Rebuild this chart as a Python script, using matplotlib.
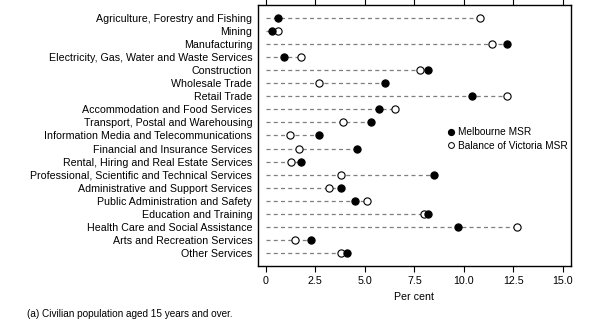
import matplotlib
matplotlib.use("Agg")
import matplotlib.pyplot as plt
from matplotlib.lines import Line2D

plt.rcParams['font.family'] = ['Liberation Sans', 'DejaVu Sans']

industries = [
    "Agriculture, Forestry and Fishing",
    "Mining",
    "Manufacturing",
    "Electricity, Gas, Water and Waste Services",
    "Construction",
    "Wholesale Trade",
    "Retail Trade",
    "Accommodation and Food Services",
    "Transport, Postal and Warehousing",
    "Information Media and Telecommunications",
    "Financial and Insurance Services",
    "Rental, Hiring and Real Estate Services",
    "Professional, Scientific and Technical Services",
    "Administrative and Support Services",
    "Public Administration and Safety",
    "Education and Training",
    "Health Care and Social Assistance",
    "Arts and Recreation Services",
    "Other Services",
]
melbourne = [0.6, 0.3, 12.2, 0.9, 8.2, 6.0, 10.4, 5.7, 5.3, 2.7, 4.6, 1.8,
             8.5, 3.8, 4.5, 8.2, 9.7, 2.3, 4.1]
balance_vic = [10.8, 0.6, 11.4, 1.8, 7.8, 2.7, 12.2, 6.5, 3.9, 1.2, 1.7, 1.3,
               3.8, 3.2, 5.1, 8.0, 12.7, 1.5, 3.8]
xticks = [0, 2.5, 5.0, 7.5, 10.0, 12.5, 15.0]
xtick_labels = ["0", "2.5", "5.0", "7.5", "10.0", "12.5", "15.0"]

fig = plt.figure(figsize=(6.08, 3.28), dpi=100)
ax = fig.add_axes([0.424, 0.189, 0.515, 0.796])

ys = list(range(len(industries)))
for y, m, b in zip(ys, melbourne, balance_vic):
    ax.plot([0, max(m, b)], [y, y], color='#7f7f7f', lw=0.9,
            dashes=(3.2, 2.6), zorder=1)

ax.scatter(melbourne, ys, s=27, color='black', edgecolors='black',
           linewidths=0.8, zorder=3)
ax.scatter(balance_vic, ys, s=27, facecolors='white', edgecolors='black',
           linewidths=0.8, zorder=2)

ax.set_xlim(-0.4, 15.4)
ax.set_ylim(len(industries) - 1 + 1.0, -1.0)
ax.set_yticks(ys)
ax.set_yticklabels(industries, fontsize=7.7)
ax.tick_params(axis='y', length=0, pad=4)
ax.set_xticks(xticks)
ax.set_xticklabels(xtick_labels, fontsize=7.7)
ax.tick_params(axis='x', direction='out', length=4, width=0.8,
               top=True, bottom=True, labeltop=False)
ax.set_xlabel("Per cent", fontsize=7.7, labelpad=4)
for s in ax.spines.values():
    s.set_linewidth(1.0)

handles = [
    Line2D([], [], ls='none', marker='o', markersize=4.2, color='black'),
    Line2D([], [], ls='none', marker='o', markersize=4.2,
           markerfacecolor='white', markeredgecolor='black', markeredgewidth=0.7),
]
ax.legend(handles, ["Melbourne MSR", "Balance of Victoria MSR"],
          loc='upper left', bbox_to_anchor=(0.59, 0.55), frameon=False,
          fontsize=7.3, handlelength=0.6, handletextpad=0.4,
          labelspacing=0.3, borderpad=0)

fig.text(0.044, 0.035, "(a) Civilian population aged 15 years and over.",
         fontsize=7.2)

fig.savefig("out.png", dpi=100)
